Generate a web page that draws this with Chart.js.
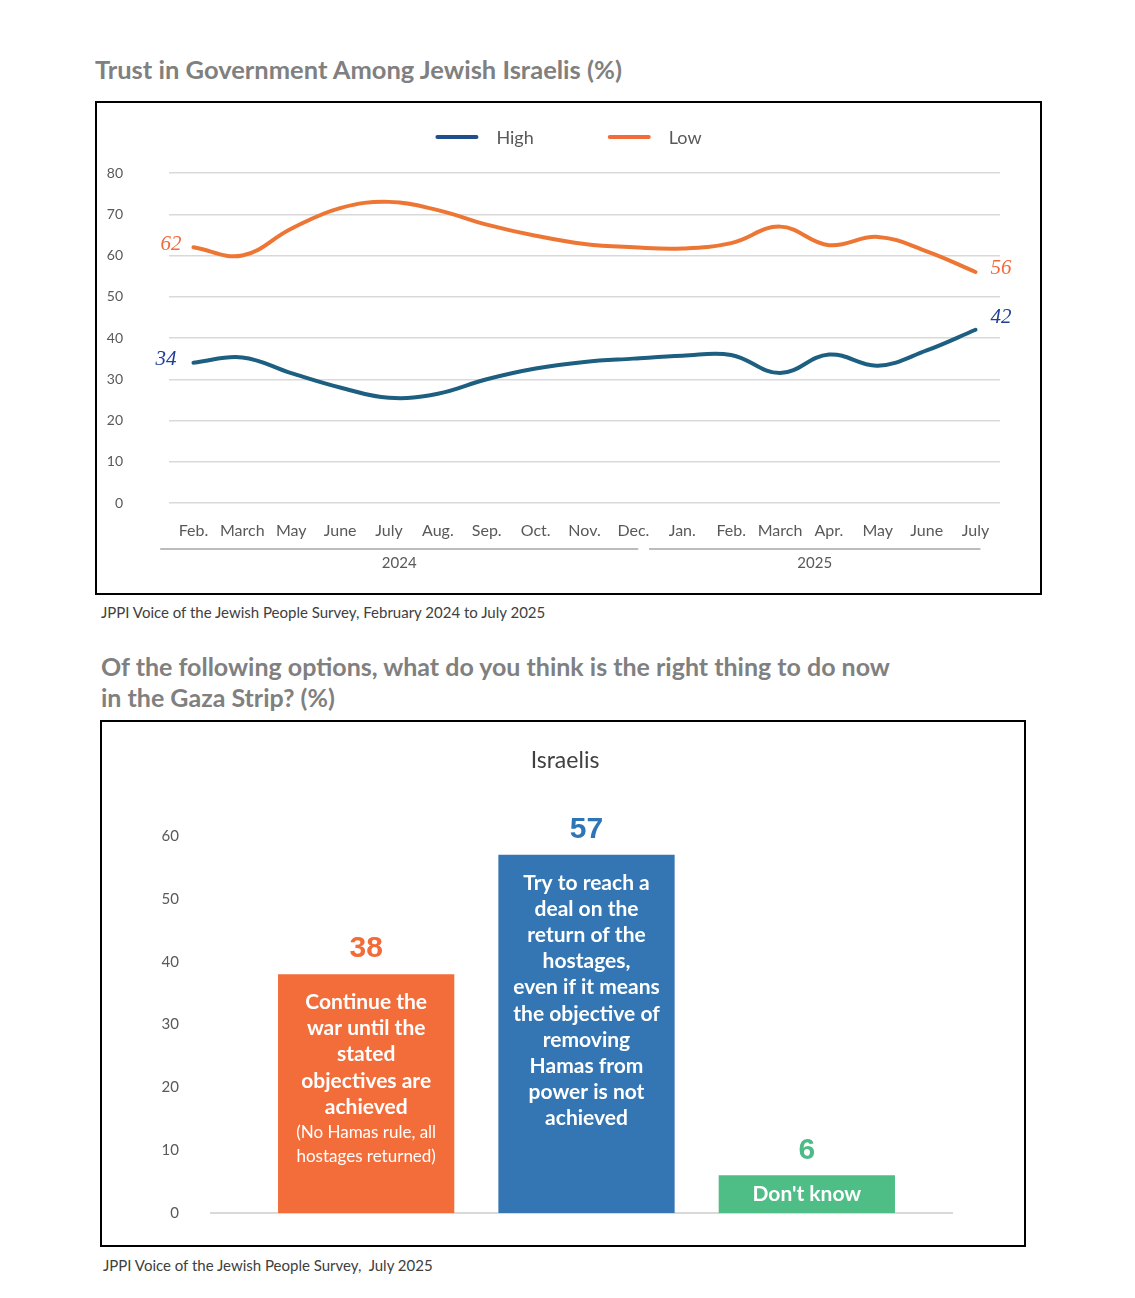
<!DOCTYPE html>
<html><head><meta charset="utf-8">
<script src="https://cdn.jsdelivr.net/npm/chart.js@4.4.1/dist/chart.umd.min.js"></script>
<style>
body{margin:0;background:#fff;width:1135px;height:1298px;position:relative;font-family:Lato,sans-serif;overflow:hidden;}
.t{position:absolute;font-weight:bold;color:#808080;font-size:25.5px;line-height:31px;white-space:nowrap;}
.s{position:absolute;color:#404040;font-size:15px;line-height:18px;white-space:nowrap;}
.box{position:absolute;border:2px solid #000;box-sizing:border-box;background:#fff;}
.box canvas{display:block;}
.ct{position:absolute;color:#404040;font-size:23px;line-height:28px;white-space:nowrap;transform:translateX(-50%);}
</style></head><body>
<div class="t" style="left:95px;top:54px">Trust in Government Among Jewish Israelis (%)</div>
<div class="box" style="left:95px;top:101px;width:947px;height:494px"><canvas id="c1" width="943" height="490"></canvas></div>
<div class="s" style="left:101px;top:603px">JPPI Voice of the Jewish People Survey, February 2024 to July 2025</div>
<div class="t" style="left:101px;top:651px;font-size:25px">Of the following options, what do you think is the right thing to do now<br>in the Gaza Strip? (%)</div>
<div class="box" style="left:100px;top:720px;width:926px;height:527px"><canvas id="c2" width="922" height="523"></canvas></div>
<div class="ct" style="left:565px;top:745px">Israelis</div>
<div class="s" style="left:103px;top:1256px">JPPI Voice of the Jewish People Survey,&nbsp; July 2025</div>
<script>
// ---------- Chart 1 data ----------
const months = ['Feb.','March','May','June','July','Aug.','Sep.','Oct.','Nov.','Dec.','Jan.','Feb.','March','Apr.','May','June','July'];
const yearGroups = [{label:'2024', from:0, to:9}, {label:'2025', from:10, to:16}];
const highTrust = [34,35.3,31.5,28,25.5,26.5,30,32.6,34.2,35,35.7,35.9,31.5,36,33.3,37,42];
const lowTrust  = [62,60,66.5,71.5,73,71,67.5,64.8,62.8,62,61.7,63,67,62.5,64.5,61,56];
const seriesNames = ['High','Low'];
const yTicks1 = [0,10,20,30,40,50,60,70,80];

// ---------- Chart 2 data ----------
const gazaOptions = [
  'Continue the war until the stated objectives are achieved (No Hamas rule, all hostages returned)',
  'Try to reach a deal on the return of the hostages, even if it means the objective of removing Hamas from power is not achieved',
  "Don't know"
];
const israelis = [38,57,6];
const boldLines = [
  ['Continue the','war until the','stated','objectives are','achieved'],
  ['Try to reach a','deal on the','return of the','hostages,','even if it means','the objective of','removing','Hamas from','power is not','achieved'],
  ["Don't know"]
];
const noteLines = [['(No Hamas rule, all','hostages returned)'],[],[]];
const yTicks2 = [0,10,20,30,40,50,60];

// ---------- styles ----------
const lineColors = ['#1d5f80','#ee7634'];
const legendColors = ['#1f4e8c','#f26b3a'];
const endLabelColors = ['#1f3f96','#f2693a'];
const barColors = ['#f36d3b','#3476b3','#4fbd86'];
const valueColors = ['#f26b38','#2e75b6','#4cbb86'];

const legendPlugin = {
  id:'customLegend',
  afterDraw(chart){
    const ctx = chart.ctx; ctx.save();
    ctx.font = '18px Lato'; ctx.textBaseline = 'middle';
    const sw = 43, gap = 18, itemGap = 74;
    const ds = chart.data.datasets;
    let total = 0;
    ds.forEach((d,i)=>{ total += sw + gap + ctx.measureText(d.label).width + (i < ds.length-1 ? itemGap : 0); });
    let x = chart.width/2 - total/2; const y = 34;
    ds.forEach((d,i)=>{
      ctx.strokeStyle = legendColors[i]; ctx.lineWidth = 4; ctx.lineCap = 'round';
      ctx.beginPath(); ctx.moveTo(x+2,y); ctx.lineTo(x+sw-2,y); ctx.stroke();
      x += sw + gap;
      ctx.fillStyle = '#595959'; ctx.textAlign = 'left'; ctx.fillText(d.label, x, y+1);
      x += ctx.measureText(d.label).width + itemGap;
    });
    ctx.restore();
  }
};

const endLabelPlugin = {
  id:'endLabels',
  afterDatasetsDraw(chart){
    const ctx = chart.ctx; ctx.save();
    ctx.font = 'italic 21px "Liberation Serif"'; ctx.textBaseline = 'middle';
    chart.data.datasets.forEach((d,i)=>{
      const pts = chart.getDatasetMeta(i).data;
      const first = pts[0], last = pts[pts.length-1];
      ctx.fillStyle = endLabelColors[i];
      ctx.textAlign = 'right';
      ctx.fillText(String(d.data[0]), first.x - (i===0?17:12), first.y - 3);
      ctx.textAlign = 'left';
      ctx.fillText(String(d.data[d.data.length-1]), last.x + 15, last.y - (i===0?12:4));
    });
    ctx.restore();
  }
};

const yearPlugin = {
  id:'yearGroups',
  afterDraw(chart){
    const ctx = chart.ctx, xs = chart.scales.x; ctx.save();
    const step = xs.getPixelForValue(1) - xs.getPixelForValue(0);
    const lineY = chart.chartArea.bottom + 46;
    yearGroups.forEach(g=>{
      const l = xs.getPixelForValue(g.from) - 0.68*step;
      const r = xs.getPixelForValue(g.to) + 0.1*step;
      ctx.strokeStyle = '#a6a6a6'; ctx.lineWidth = 1.5;
      ctx.beginPath(); ctx.moveTo(l,lineY); ctx.lineTo(r,lineY); ctx.stroke();
      ctx.fillStyle = '#595959'; ctx.font = '15px Lato'; ctx.textAlign = 'center'; ctx.textBaseline = 'middle';
      ctx.fillText(g.label, (l+r)/2, lineY + 14);
    });
    ctx.restore();
  }
};

new Chart(document.getElementById('c1'), {
  type:'line',
  data:{
    labels: months,
    datasets:[
      {label:seriesNames[0], data:highTrust, borderColor:lineColors[0], borderWidth:4, pointRadius:0, tension:0.4, fill:false, borderCapStyle:'round'},
      {label:seriesNames[1], data:lowTrust, borderColor:lineColors[1], borderWidth:4, pointRadius:0, tension:0.4, fill:false, borderCapStyle:'round'}
    ]
  },
  options:{
    responsive:false, animation:false, devicePixelRatio:1,
    layout:{padding:{left:0,right:40,top:70,bottom:0}},
    plugins:{legend:{display:false}, tooltip:{enabled:false}, title:{display:false}},
    scales:{
      x:{offset:true, grid:{display:false}, border:{display:false},
         afterFit(s){ s.height = 90; },
         ticks:{padding:10, color:'#595959', font:{family:'Lato', size:16}, maxRotation:0, autoSkip:false}},
      y:{min:0, max:80, afterBuildTicks(s){ s.ticks = yTicks1.map(v=>({value:v})); },
         afterFit(s){ s.width = 72; s.paddingTop = 0; s.paddingBottom = 0; },
         ticks:{padding:46, color:'#595959', font:{family:'Lato', size:14}},
         grid:{color:'#d9d9d9', lineWidth:1.5, drawTicks:false}, border:{display:false}}
    }
  },
  plugins:[legendPlugin, endLabelPlugin, yearPlugin]
});

const baselinePlugin = {
  id:'baseline',
  beforeDatasetsDraw(chart){
    const ctx = chart.ctx, y = chart.scales.y.getPixelForValue(0), a = chart.chartArea; ctx.save();
    ctx.strokeStyle = '#d9d9d9'; ctx.lineWidth = 2;
    ctx.beginPath(); ctx.moveTo(a.left-46, y); ctx.lineTo(a.right+36, y); ctx.stroke();
    ctx.restore();
  }
};

const barTextPlugin = {
  id:'barText',
  afterDatasetsDraw(chart){
    const ctx = chart.ctx; ctx.save();
    const bars = chart.getDatasetMeta(0).data;
    bars.forEach((b,i)=>{
      const v = chart.data.datasets[0].data[i];
      ctx.textAlign = 'center'; ctx.textBaseline = 'middle';
      ctx.fillStyle = valueColors[i]; ctx.font = 'bold 30px "Liberation Sans"';
      ctx.fillText(String(v), b.x, b.y - 25);
      ctx.fillStyle = '#ffffff';
      const h = b.base - b.y;
      let y = h < 60 ? b.y + h/2 : b.y + 28;
      ctx.font = 'bold 21px Lato';
      boldLines[i].forEach(t=>{ ctx.fillText(t, b.x, y); y += 26.2; });
      ctx.font = '17px Lato';
      y -= 1;
      noteLines[i].forEach(t=>{ ctx.fillText(t, b.x, y); y += 24; });
    });
    ctx.restore();
  }
};

new Chart(document.getElementById('c2'), {
  type:'bar',
  data:{labels:gazaOptions, datasets:[{label:'Israelis', data:israelis, backgroundColor:barColors, categoryPercentage:1, barPercentage:0.8}]},
  options:{
    responsive:false, animation:false, devicePixelRatio:1,
    layout:{padding:{left:0,right:107,top:114,bottom:32}},
    plugins:{legend:{display:false}, tooltip:{enabled:false}, title:{display:false}},
    scales:{
      x:{display:true, grid:{display:false, drawTicks:false}, border:{display:false},
         ticks:{display:false}, afterFit(s){ s.height = 0; }},
      y:{min:0, max:60, afterBuildTicks(s){ s.ticks = yTicks2.map(v=>({value:v})); },
         afterFit(s){ s.width = 154; s.paddingTop = 0; s.paddingBottom = 0; },
         ticks:{padding:77, color:'#595959', font:{family:'Lato', size:15}},
         grid:{display:false, drawTicks:false}, border:{display:false}}
    }
  },
  plugins:[baselinePlugin, barTextPlugin]
});
</script>
</body></html>
